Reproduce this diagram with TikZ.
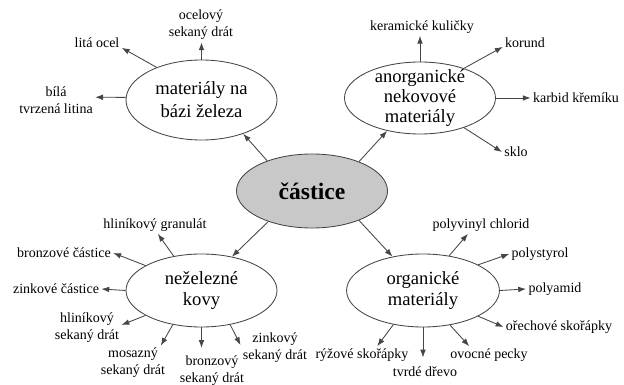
\documentclass[tikz,border=0pt]{standalone}
\usepackage{fontspec}
\setmainfont{Liberation Serif}
\usetikzlibrary{shapes.geometric,arrows.meta}
\definecolor{hubfill}{RGB}{200,200,200}
\definecolor{edge}{RGB}{70,70,70}

\begin{document}
\begin{tikzpicture}[x=0.7pt, y=-0.7pt,
  hub/.style={ellipse, draw=edge, line width=0.6pt, inner sep=0pt, align=center, font=\fontsize{13}{15}\selectfont},
  leaf/.style={inner sep=1.5pt, align=center, font=\fontsize{9.8}{12}\selectfont},
  arr/.style={draw=edge, line width=0.6pt, -{Latex[length=5.5pt,width=4pt]}}]
\useasboundingbox (0,0) rectangle (624,385);
\node[hub, fill=hubfill, minimum width=105.7pt, minimum height=51.8pt, font=\fontsize{16.5}{18}\selectfont\bfseries] (castice) at (312,191) {částice};
\node[hub, minimum width=105.7pt, minimum height=56pt, font=\fontsize{13}{16}\selectfont] (mat) at (201.5,100) {materiály na\\bázi železa};
\node[hub, minimum width=105.7pt, minimum height=50.4pt, inner ysep=-2.5pt, font=\fontsize{13}{14}\selectfont] (anorg) at (420,98) {anorganické\\nekovové\\materiály};
\node[hub, minimum width=105.7pt, minimum height=51.1pt] (nez) at (201.5,290.5) {neželezné\\kovy};
\node[hub, minimum width=107pt, minimum height=51.1pt] (org) at (423,290.5) {organické\\materiály};

\node[leaf] (ocel) at (201,25) {ocelový\\sekaný drát};
\node[leaf] (lita) at (97,43) {litá ocel};
\node[leaf] (bila) at (56,100) {bílá\\tvrzená litina};
\node[leaf] (keram) at (422,27) {keramické kuličky};
\node[leaf] (korund) at (525,43) {korund};
\node[leaf] (karbid) at (576,98) {karbid křemíku};
\node[leaf] (sklo) at (516,152) {sklo};
\node[leaf] (hgran) at (155,225) {hliníkový granulát};
\node[leaf] (bronzc) at (64,253) {bronzové částice};
\node[leaf] (zinkc) at (56,289) {zinkové částice};
\node[leaf] (hsek) at (87,328) {hliníkový\\sekaný drát};
\node[leaf] (mosek) at (133,363) {mosazný\\sekaný drát};
\node[leaf] (bronzs) at (212,371) {bronzový\\sekaný drát};
\node[leaf] (zinks) at (275,348) {zinkový\\sekaný drát};
\node[leaf] (pvc) at (481,225) {polyvinyl chlorid};
\node[leaf] (pstyr) at (540,254) {polystyrol};
\node[leaf] (pamid) at (555,289) {polyamid};
\node[leaf] (orech) at (559,327) {ořechové skořápky};
\node[leaf] (ryze) at (362,355) {rýžové skořápky};
\node[leaf] (drevo) at (425,372) {tvrdé dřevo};
\node[leaf] (pecky) at (489,355) {ovocné pecky};

\draw[arr] (castice.146) -- (mat.321);
\draw[arr] (castice.32) -- (anorg.225);
\draw[arr] (castice.215) -- (nez.48);
\draw[arr] (castice.328) -- (org.132);

\draw[arr] (mat.90) -- (mat.90 |- ocel.south);
\draw[arr] (mat.144) -- (lita.349);
\draw[arr] (mat.178) -- (bila.4);

\draw[arr] (anorg.90) -- (anorg.90 |- keram.south);
\draw[arr] (anorg.34) -- (korund.190);
\draw[arr] (anorg.0) -- (karbid.west);
\draw[arr] (anorg.-34) -- (sklo.west);

\draw[arr] (nez.129) -- (hgran.288);
\draw[arr] (nez.156) -- (bronzc.east);
\draw[arr] (nez.180) -- (zinkc.east);
\draw[arr] (nez.204) -- (hsek.5);
\draw[arr] (nez.230) -- (mosek.32);
\draw[arr, shorten >=4pt] (nez.270) -- (nez.270 |- bronzs.north);
\draw[arr] (nez.310) -- (zinks.175);

\draw[arr] (org.53) -- (pvc.214);
\draw[arr] (org.25) -- (pstyr.west);
\draw[arr] (org.0) -- (pamid.west);
\draw[arr] (org.335) -- (orech.west);
\draw[arr] (org.229) -- (ryze.30);
\draw[arr, shorten >=5pt] (org.270) -- (org.270 |- drevo.north);
\draw[arr] (org.308) -- (pecky.156);
\end{tikzpicture}
\end{document}
